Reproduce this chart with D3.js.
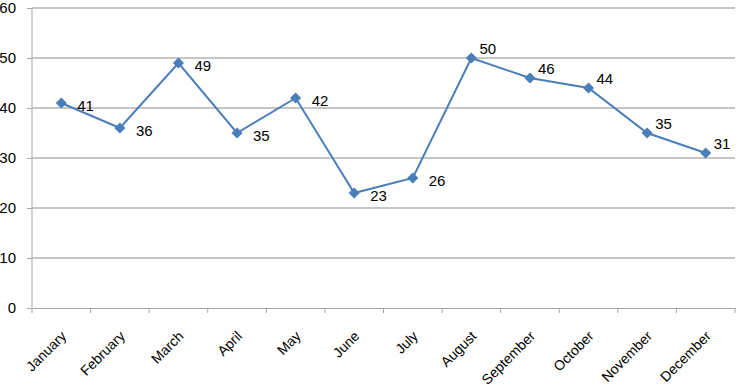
<!DOCTYPE html>
<html>
<head>
<meta charset="utf-8">
<script src="https://cdn.jsdelivr.net/npm/d3@7"></script>
<style>
  body { margin: 0; background: #fff; }
  svg text { font-family: "Liberation Sans", Arial, sans-serif; }
</style>
</head>
<body>
<svg id="chart" width="740" height="386"></svg>
<script>
const months = ['January', 'February', 'March', 'April', 'May', 'June',
                'July', 'August', 'September', 'October', 'November', 'December'];
const values = [41, 36, 49, 35, 42, 23, 26, 50, 46, 44, 35, 31];
const yTicks = [0, 10, 20, 30, 40, 50, 60];

const svg = d3.select('#chart');
const margin = { left: 32, right: 5, top: 8, bottom: 78 };
const width = 740 - margin.left - margin.right;
const height = 386 - margin.top - margin.bottom;

const g = svg.append('g').attr('transform', `translate(${margin.left},${margin.top})`);

const x = d3.scaleBand().domain(months).range([0, width]);
const y = d3.scaleLinear().domain([0, 60]).range([height, 0]);

// gridlines
g.append('g')
  .selectAll('line')
  .data(yTicks.slice(1))
  .enter().append('line')
  .attr('x1', 0).attr('x2', width)
  .attr('y1', d => y(d)).attr('y2', d => y(d))
  .attr('stroke', '#8c8c8c').attr('stroke-width', 1);

// y axis
const yAxis = g.append('g')
  .call(d3.axisLeft(y).tickValues(yTicks).tickSize(5).tickPadding(11));
yAxis.select('.domain').attr('stroke', '#a6a6a6').attr('d', `M0,0V${height}`);
yAxis.selectAll('.tick line').attr('stroke', '#a6a6a6');
yAxis.selectAll('text').attr('font-size', 15).attr('fill', '#000');

// x axis
const xAxis = g.append('g')
  .attr('transform', `translate(0,${height})`)
  .call(d3.axisBottom(x).tickSize(0).tickSizeOuter(0));
xAxis.select('.domain').attr('stroke', '#a6a6a6');
xAxis.selectAll('.tick line').remove();
xAxis.selectAll('.bound')
  .data(d3.range(months.length + 1))
  .enter().append('line')
  .attr('x1', i => i * x.step()).attr('x2', i => i * x.step())
  .attr('y1', 0).attr('y2', 5)
  .attr('stroke', '#a6a6a6');
xAxis.selectAll('.tick text')
  .attr('font-size', 14).attr('fill', '#000')
  .attr('text-anchor', 'end')
  .attr('x', 0).attr('y', 0).attr('dy', 0)
  .attr('transform', 'translate(6,29) rotate(-45)');

const cx = d => x(d) + x.bandwidth() / 2;

// line
g.append('path')
  .datum(values)
  .attr('fill', 'none')
  .attr('stroke', '#4a7ebb')
  .attr('stroke-width', 2)
  .attr('d', d3.line().x((d, i) => cx(months[i])).y(d => y(d)));

// markers
g.append('g')
  .selectAll('path')
  .data(values)
  .enter().append('path')
  .attr('d', d3.symbol().type(d3.symbolSquare).size(62))
  .attr('transform', (d, i) => `translate(${cx(months[i])},${y(d)}) rotate(45)`)
  .attr('fill', '#4a7ebb');

// data labels: first half sit right/below, second half right/above
g.append('g')
  .selectAll('text')
  .data(values)
  .enter().append('text')
  .attr('x', (d, i) => cx(months[i]) + (i < 7 ? 16 : 8))
  .attr('y', (d, i) => y(d) + (i < 7 ? 8 : -4))
  .attr('font-size', 15)
  .attr('fill', '#000')
  .text(d => d);
</script>
</body>
</html>
